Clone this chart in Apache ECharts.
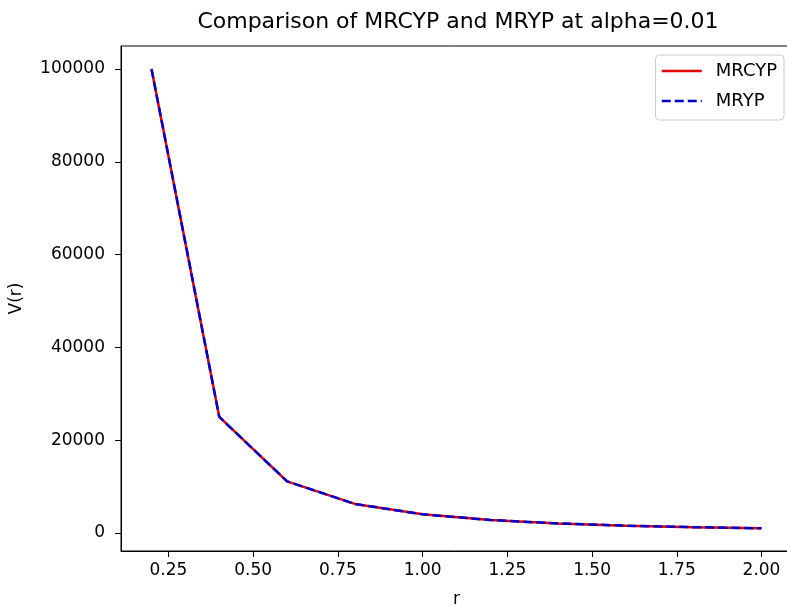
<!DOCTYPE html>
<html>
<head>
<meta charset="utf-8">
<script src="https://cdn.jsdelivr.net/npm/echarts@6/dist/echarts.min.js"></script>
<style>
  html, body {margin: 0; padding: 0; background: #fff;}
  #main {width: 787px; height: 607px;}
</style>
</head>
<body>
<div id="main"></div>
<script>
var rValues = [0.2, 0.4, 0.6, 0.8, 1.0, 1.2, 1.4, 1.6, 1.8, 2.0];
var mrcypValues = [100000, 25000, 11111, 6250, 4000, 2778, 2041, 1563, 1235, 1000];
var mrypValues = [100000, 25000, 11111, 6250, 4000, 2778, 2041, 1563, 1235, 1000];
var xTicks = [0.25, 0.5, 0.75, 1.0, 1.25, 1.5, 1.75, 2.0];
var yTicks = [0, 20000, 40000, 60000, 80000, 100000];

var font = 'DejaVu Sans';

function pairs(xs, ys) {
    var out = [];
    for (var i = 0; i < xs.length; i++) {
        out.push([xs[i], ys[i]]);
    }
    return out;
}

var mychart = echarts.init(document.getElementById('main'));
var option = {
    animation: false,
    title: {
        text: 'Comparison of MRCYP and MRYP at alpha=0.01',
        left: 453,
        textAlign: 'center',
        top: 6,
        textStyle: {fontFamily: font, fontSize: 22, fontWeight: 'normal', color: '#000'}
    },
    legend: {
        orient: 'vertical',
        right: 3,
        top: 55,
        itemWidth: 40,
        itemHeight: 14,
        itemGap: 12,
        padding: [7, 7, 10, 5],
        backgroundColor: '#fff',
        borderColor: '#cccccc',
        borderWidth: 1,
        borderRadius: 4,
        itemStyle: {opacity: 0},
        lineStyle: {width: 2.5},
        textStyle: {fontFamily: font, fontSize: 18, color: '#000', padding: [0, 0, 0, 9]},
        data: ['MRCYP', 'MRYP']
    },
    grid: {left: 121, right: -5, top: 46, bottom: 56, outerBoundsMode: 'none', show: true, borderColor: '#000', borderWidth: 1},
    xAxis: {
        type: 'value',
        min: 0.11,
        max: 2.09,
        name: 'r',
        nameLocation: 'middle',
        nameGap: 40,
        nameTextStyle: {fontFamily: font, fontSize: 17, color: '#000'},
        splitLine: {show: false},
        axisLine: {show: true, onZero: false, lineStyle: {color: '#000'}},
        axisTick: {show: true, length: 6, inside: false, customValues: xTicks, lineStyle: {color: '#000'}},
        axisLabel: {
            customValues: xTicks,
            margin: 11,
            fontFamily: font, fontSize: 17, color: '#000',
            formatter: function (v) { return v.toFixed(2); }
        }
    },
    yAxis: {
        type: 'value',
        min: -3900,
        max: 104950,
        name: 'V(r)',
        nameLocation: 'middle',
        nameGap: 96,
        nameRotate: 90,
        nameTextStyle: {fontFamily: font, fontSize: 17, color: '#000'},
        splitLine: {show: false},
        axisLine: {show: true, onZero: false, lineStyle: {color: '#000'}},
        axisTick: {show: true, length: 6, inside: false, customValues: yTicks, lineStyle: {color: '#000'}},
        axisLabel: {
            customValues: yTicks,
            margin: 16,
            fontFamily: font, fontSize: 17, color: '#000',
            formatter: function (v) { return String(v); }
        }
    },
    series: [
        {
            name: 'MRCYP',
            type: 'line',
            symbol: 'none',
            data: pairs(rValues, mrcypValues),
            lineStyle: {color: '#e00000', width: 2.5, type: 'solid'},
            itemStyle: {color: '#e00000'}
        },
        {
            name: 'MRYP',
            type: 'line',
            symbol: 'none',
            data: pairs(rValues, mrypValues),
            lineStyle: {color: '#0000cc', width: 2.5, type: [9, 4]},
            itemStyle: {color: '#0000cc'}
        }
    ]
};
mychart.setOption(option);
</script>
</body>
</html>
